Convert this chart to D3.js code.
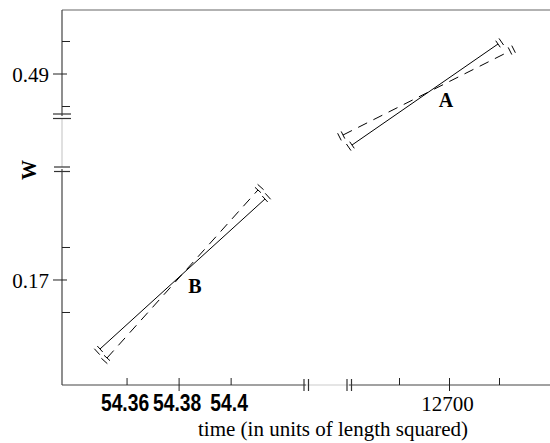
<!DOCTYPE html>
<html>
<head>
<meta charset="utf-8">
<script src="https://cdn.jsdelivr.net/npm/d3@7"></script>
<style>
  body { margin: 0; background: #fff; }
  svg { display: block; }
  .serif { font-family: "Liberation Serif", "Times New Roman", serif; }
  .narrow { font-family: "Liberation Sans", Arial, sans-serif; font-weight: bold; }
</style>
</head>
<body>
<div id="chart"></div>
<script>
// values
const leftXTicks = [54.36, 54.38, 54.4];
const leftXLabels = ["54.36", "54.38", "54.4"];
const rightXTicks = [12600, 12700, 12800];
const rightXLabels = ["", "12700", ""];
const upperYTicks = [0.48, 0.49, 0.50];
const upperYLabels = ["", "0.49", ""];
const lowerYTicks = [0.16, 0.17, 0.18];
const lowerYLabels = ["", "0.17", ""];

// series A lives on the right / upper panel, B on the left / lower panel
const aSolid = [[12505, 0.46815], [12797, 0.49923]];
const aDashed = [[12487, 0.47123], [12821, 0.49708]];
const bSolid = [[54.3496, 0.14877], [54.4130, 0.19492]];
const bDashed = [[54.3523, 0.1460], [54.4103, 0.19769]];
const labelA = [12693, 0.482];
const labelB = [54.3861, 0.168];

const width = 550, height = 443;
const axisColor = "#444";
const gapColor = "#ccc";

const svg = d3.select("#chart").append("svg")
    .attr("width", width)
    .attr("height", height);

const plotLeft = 62, plotTop = 10, plotBottom = 385;

// broken scales
const xL = d3.scaleLinear().domain([54.335, 54.428]).range([plotLeft, 304]);
const xR = d3.scaleLinear().domain([12503, 12901]).range([351, width]);
const yU = d3.scaleLinear().domain([0.47708, 0.50969]).range([116, plotTop]);
const yL = d3.scaleLinear().domain([0.13769, 0.20415]).range([plotBottom, 169]);

// frame: top border
svg.append("line")
    .attr("x1", plotLeft).attr("x2", width)
    .attr("y1", plotTop).attr("y2", plotTop)
    .attr("stroke", "#666").attr("stroke-width", 1.2);

// axis lines (with light gap across the breaks)
const axisLines = [
    [plotLeft, plotTop, plotLeft, 116, axisColor],
    [plotLeft, 118, plotLeft, 167, gapColor],
    [plotLeft, 169, plotLeft, plotBottom, axisColor],
    [plotLeft, plotBottom, 306, plotBottom, axisColor],
    [306, plotBottom, 349, plotBottom, gapColor],
    [349, plotBottom, width, plotBottom, axisColor]
];
svg.selectAll(".axis-line")
    .data(axisLines)
    .join("line")
    .attr("class", "axis-line")
    .attr("x1", d => d[0]).attr("y1", d => d[1])
    .attr("x2", d => d[2]).attr("y2", d => d[3])
    .attr("stroke", d => d[4])
    .attr("stroke-width", 1.2);

// break marks
const breaks = [
    [plotLeft - 9, 114, plotLeft + 9, 114], [plotLeft - 9, 118.5, plotLeft + 9, 118.5],
    [plotLeft - 8, 167, plotLeft + 8, 167], [plotLeft - 8, 171.5, plotLeft + 8, 171.5],
    [304, plotBottom - 6, 304, plotBottom + 6], [308.5, plotBottom - 6, 308.5, plotBottom + 6],
    [347, plotBottom - 6, 347, plotBottom + 6], [351.5, plotBottom - 6, 351.5, plotBottom + 6]
];
svg.selectAll(".break")
    .data(breaks)
    .join("line")
    .attr("class", "break")
    .attr("x1", d => d[0]).attr("y1", d => d[1])
    .attr("x2", d => d[2]).attr("y2", d => d[3])
    .attr("stroke", "#333")
    .attr("stroke-width", 1.2);

// x ticks: major (labelled middle) cross the axis, minor point inward
function xTicks(scale, values, labels, cls, majorIdx) {
    const g = svg.append("g");
    g.selectAll("line")
        .data(values)
        .join("line")
        .attr("x1", d => scale(d)).attr("x2", d => scale(d))
        .attr("y1", plotBottom - 7)
        .attr("y2", (d, i) => i === majorIdx ? plotBottom + 6 : plotBottom)
        .attr("stroke", "#222");
    // the bold labels on the left panel are a condensed face, squeeze them
    const sx = cls === "narrow" ? 0.84 : 1;
    g.selectAll("text")
        .data(values)
        .join("text")
        .attr("class", cls)
        .attr("transform", d => `translate(${scale(d) - 2},411) scale(${sx},1)`)
        .attr("text-anchor", "middle")
        .attr("font-size", cls === "narrow" ? 23 : 21)
        .text((d, i) => labels[i]);
}
xTicks(xL, leftXTicks, leftXLabels, "narrow", 1);
xTicks(xR, rightXTicks, rightXLabels, "serif", 1);

function yTicks(scale, values, labels, majorIdx) {
    const g = svg.append("g");
    g.selectAll("line")
        .data(values)
        .join("line")
        .attr("y1", d => scale(d)).attr("y2", d => scale(d))
        .attr("x1", (d, i) => i === majorIdx ? plotLeft - 9 : plotLeft)
        .attr("x2", (d, i) => i === majorIdx ? plotLeft + 5 : plotLeft + 8)
        .attr("stroke", "#222");
    g.selectAll("text")
        .data(values)
        .join("text")
        .attr("class", "serif")
        .attr("x", 49)
        .attr("y", d => scale(d) + 8)
        .attr("text-anchor", "end")
        .attr("font-size", 21)
        .text((d, i) => labels[i]);
}
yTicks(yU, upperYTicks, upperYLabels, 1);
yTicks(yL, lowerYTicks, lowerYLabels, 1);

// lines with double-tick end caps
function drawSeg(pts, xs, ys, dashed) {
    const p = pts.map(d => [xs(d[0]), ys(d[1])]);
    svg.append("path")
        .attr("d", d3.line()(p))
        .attr("fill", "none")
        .attr("stroke", "#000")
        .attr("stroke-width", 1)
        .attr("stroke-dasharray", dashed ? "10,7" : null);

    const caps = [];
    [[p[0], p[1]], [p[1], p[0]]].forEach(([end, other]) => {
        const dx = end[0] - other[0], dy = end[1] - other[1];
        const len = Math.hypot(dx, dy);
        const ux = dx / len, uy = dy / len;
        const nx = -uy, ny = ux;
        [0, 4].forEach(off => {
            const cx = end[0] + ux * off, cy = end[1] + uy * off;
            caps.push([cx - nx * 4, cy - ny * 4, cx + nx * 4, cy + ny * 4]);
        });
    });
    svg.append("g").selectAll("line")
        .data(caps)
        .join("line")
        .attr("x1", d => d[0]).attr("y1", d => d[1])
        .attr("x2", d => d[2]).attr("y2", d => d[3])
        .attr("stroke", "#000")
        .attr("stroke-width", 1);
}
drawSeg(aSolid, xR, yU, false);
drawSeg(aDashed, xR, yU, true);
drawSeg(bSolid, xL, yL, false);
drawSeg(bDashed, xL, yL, true);

// series labels
svg.append("text")
    .attr("class", "serif")
    .attr("x", xR(labelA[0])).attr("y", yU(labelA[1]))
    .attr("text-anchor", "middle")
    .attr("dominant-baseline", "central")
    .attr("font-size", 20).attr("font-weight", "bold")
    .text("A");
svg.append("text")
    .attr("class", "serif")
    .attr("x", xL(labelB[0])).attr("y", yL(labelB[1]))
    .attr("text-anchor", "middle")
    .attr("dominant-baseline", "central")
    .attr("font-size", 20).attr("font-weight", "bold")
    .text("B");

// axis titles
svg.append("text")
    .attr("class", "serif")
    .attr("x", 333).attr("y", 436)
    .attr("text-anchor", "middle")
    .attr("font-size", 21)
    .text("time (in units of length squared)");
svg.append("text")
    .attr("class", "serif")
    .attr("transform", "translate(29,170) rotate(-90)")
    .attr("text-anchor", "middle")
    .attr("dominant-baseline", "central")
    .attr("font-size", 20).attr("font-weight", "bold")
    .text("W");
</script>
</body>
</html>
